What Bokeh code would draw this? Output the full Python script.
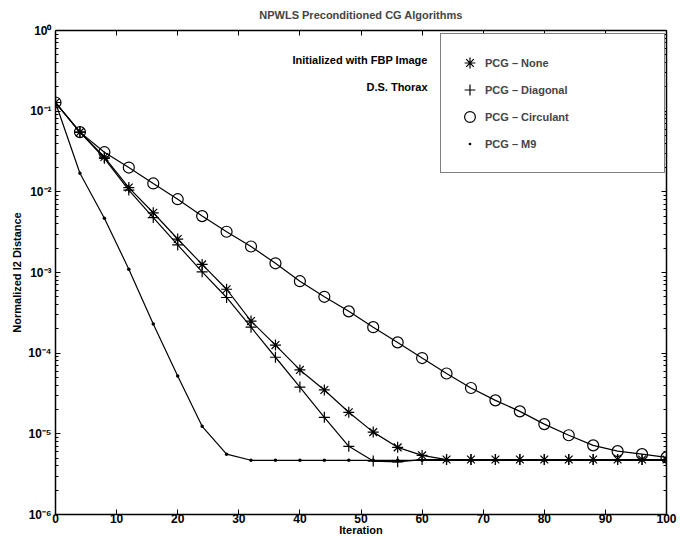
from bokeh.plotting import figure
from bokeh.models import (Range1d, FixedTicker, LinearAxis, LogAxis, Legend, LegendItem,
                          CustomJSTickFormatter, Label)
from bokeh.embed import file_html
from bokeh.resources import INLINE

# ---------------- data ----------------
iterations = [0, 4, 8, 12, 16, 20, 24, 28, 32, 36, 40, 44, 48, 52, 56, 60,
              64, 68, 72, 76, 80, 84, 88, 92, 96, 100]

pcg_none = [0.128, 0.055, 0.027, 0.0113, 0.0055, 0.0026, 0.00126, 6.2e-4, 2.5e-4,
            1.26e-4, 6.2e-5, 3.5e-5, 1.85e-5, 1.05e-5, 6.8e-6, 5.4e-6, 4.8e-6,
            4.8e-6, 4.8e-6, 4.8e-6, 4.8e-6, 4.8e-6, 4.8e-6, 4.8e-6, 4.8e-6, 4.8e-6]

pcg_diagonal = [0.128, 0.055, 0.026, 0.0105, 0.0048, 0.0022, 0.00102, 4.9e-4, 2.1e-4,
                8.9e-5, 3.8e-5, 1.6e-5, 7.0e-6, 4.6e-6, 4.5e-6, 4.8e-6, 4.8e-6,
                4.8e-6, 4.8e-6, 4.8e-6, 4.8e-6, 4.8e-6, 4.8e-6, 4.8e-6, 4.8e-6, 4.8e-6]

pcg_circulant = [0.128, 0.055, 0.031, 0.020, 0.0127, 0.0081, 0.0050, 0.0032, 0.0021,
                 0.0013, 7.8e-4, 5.0e-4, 3.3e-4, 2.1e-4, 1.36e-4, 8.7e-5, 5.6e-5,
                 3.7e-5, 2.6e-5, 1.9e-5, 1.32e-5, 9.6e-6, 7.2e-6, 6.1e-6, 5.6e-6, 5.1e-6]

pcg_m9 = [0.128, 0.017, 0.0047, 0.0011, 2.3e-4, 5.2e-5, 1.24e-5, 5.6e-6, 4.7e-6,
          4.7e-6, 4.7e-6, 4.7e-6, 4.7e-6, 4.7e-6, 4.7e-6, 4.7e-6, 4.7e-6,
          4.7e-6, 4.7e-6, 4.7e-6, 4.7e-6, 4.7e-6, 4.7e-6, 4.7e-6, 4.7e-6, 4.7e-6]

x_ticks = [0, 10, 20, 30, 40, 50, 60, 70, 80, 90, 100]
y_ticks = [1e-6, 1e-5, 1e-4, 1e-3, 1e-2, 1e-1, 1.0]
y_tick_labels = ["10\u207b\u2076", "10\u207b\u2075", "10\u207b\u2074", "10\u207b\u00b3",
                 "10\u207b\u00b2", "10\u207b\u00b9", "10\u2070"]
y_minor = [m * 10.0 ** k for k in range(-6, 0) for m in range(2, 10)]

legend_labels = ["PCG \u2013 None", "PCG \u2013 Diagonal", "PCG \u2013 Circulant", "PCG \u2013 M9"]

FONT = "Liberation Sans"

p = figure(width=687, height=546, x_range=Range1d(0, 100), y_range=Range1d(1e-6, 1.0),
           y_axis_type="log", output_backend="svg", toolbar_location=None,
           min_border_left=55, min_border_right=21, min_border_top=30, min_border_bottom=32,
           title="NPWLS Preconditioned CG Algorithms")

p.xgrid.visible = False
p.ygrid.visible = False
p.outline_line_color = None

p.title.align = "center"
p.title.vertical_align = "top"
p.title.text_font = FONT
p.title.text_font_size = "11px"
p.title.text_font_style = "bold"
p.title.standoff = 15

fmt = CustomJSTickFormatter(args=dict(labels=y_tick_labels),
                            code="const e = Math.round(Math.log10(tick)); return labels[e + 6];")

def style_axis(ax):
    ax.axis_line_color = "black"
    ax.axis_line_width = 1.5
    ax.major_tick_line_color = "black"
    ax.minor_tick_line_color = "black"
    ax.major_tick_in = 5
    ax.major_tick_out = 0
    ax.minor_tick_in = 3
    ax.minor_tick_out = 0
    ax.major_label_text_font = FONT
    ax.major_label_text_font_size = "12px"
    ax.major_label_text_font_style = "bold"
    ax.major_label_text_color = "black"
    ax.axis_label_text_font = FONT
    ax.axis_label_text_font_size = "11px"
    ax.axis_label_text_font_style = "bold"
    ax.axis_label_text_color = "black"

xa = p.xaxis[0]
xa.ticker = FixedTicker(ticks=x_ticks)
xa.axis_label = "Iteration"
style_axis(xa)
xa.major_label_standoff = -1
xa.axis_label_standoff = -2

ya = p.yaxis[0]
ya.ticker = FixedTicker(ticks=y_ticks, minor_ticks=y_minor)
ya.formatter = fmt
ya.axis_label = "Normalized l2 Distance"
style_axis(ya)
ya.major_label_standoff = 4
ya.axis_label_standoff = 2

blank = CustomJSTickFormatter(code="return '';")

top = LinearAxis(ticker=FixedTicker(ticks=x_ticks), formatter=blank)
style_axis(top)
top.major_label_text_font_size = "1px"
top.major_label_standoff = 0
p.add_layout(top, "above")

right = LogAxis(ticker=FixedTicker(ticks=y_ticks, minor_ticks=y_minor), formatter=blank)
style_axis(right)
right.major_label_text_font_size = "1px"
right.major_label_standoff = 0
p.add_layout(right, "right")

LW = 1.2
for vals in (pcg_circulant, pcg_none, pcg_diagonal, pcg_m9):
    p.line(iterations, vals, line_color="black", line_width=LW)

r_none = p.scatter(iterations, pcg_none, marker="asterisk", size=11,
                   line_color="black", line_width=LW)
r_diag = p.scatter(iterations, pcg_diagonal, marker="cross", size=11,
                   line_color="black", line_width=LW)
r_circ = p.scatter(iterations, pcg_circulant, marker="circle", size=11,
                   line_color="black", fill_color=None, line_width=LW)
r_m9 = p.scatter(iterations, pcg_m9, marker="dot", size=14,
                 line_color="black", fill_color="black", line_width=1)

legend = Legend(items=[LegendItem(label=legend_labels[0], renderers=[r_none]),
                       LegendItem(label=legend_labels[1], renderers=[r_diag]),
                       LegendItem(label=legend_labels[2], renderers=[r_circ]),
                       LegendItem(label=legend_labels[3], renderers=[r_m9])],
                location=(385, 341))
legend.border_line_color = "black"
legend.border_line_width = 1
legend.background_fill_color = "white"
legend.background_fill_alpha = 1.0
legend.label_text_font = FONT
legend.label_text_font_size = "11px"
legend.label_text_font_style = "bold"
legend.glyph_width = 27
legend.glyph_height = 27
legend.spacing = 0
legend.padding = 15
legend.margin = 0
legend.label_standoff = 2
legend.label_width = 164
p.add_layout(legend)

for txt, yv in (("Initialized with FBP Image", 0.425), ("D.S. Thorax", 0.197)):
    p.add_layout(Label(x=60.9, y=yv, text=txt, text_align="right", text_baseline="middle",
                       text_font=FONT, text_font_size="11px", text_font_style="bold",
                       text_color="black"))

open("out.html", "w").write(file_html(p, INLINE))
